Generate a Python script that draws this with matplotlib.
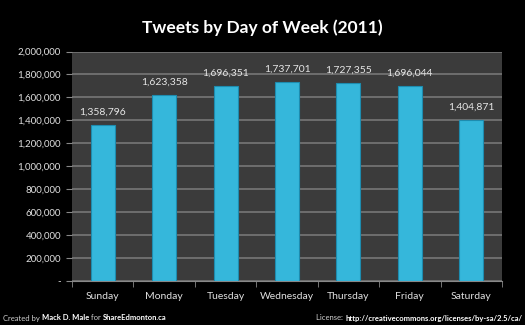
import matplotlib
matplotlib.use('Agg')
from matplotlib import pyplot as plt
from matplotlib.ticker import FuncFormatter, FixedLocator
import numpy as np

days = ['Sunday', 'Monday', 'Tuesday', 'Wednesday', 'Thursday', 'Friday', 'Saturday']
tweets = [1358796, 1623358, 1696351, 1737701, 1727355, 1696044, 1404871]
yticks = list(range(0, 2000001, 200000))

plt.rcParams['font.family'] = ['Lato', 'DejaVu Sans']

fig = plt.figure(figsize=(5.25, 3.25), dpi=100, facecolor='black')
ax = fig.add_axes([72/525, 1 - 281/325, 430/525, 229.5/325])
ax.set_facecolor('#3b3b3b')

x = np.arange(len(days))
ax.bar(x, tweets, width=0.39, color='#35b7db', edgecolor='#1d8caf', linewidth=0.8, zorder=3)

for xi, v in zip(x, tweets):
    ax.annotate(f'{v:,}', (xi, v), xytext=(0, 6), textcoords='offset points',
                ha='center', va='bottom', color='#e6e6e6', fontsize=7.5)

ax.set_xlim(-0.5, len(days) - 0.5)
ax.set_ylim(0, 2000000)
ax.set_yticks(yticks)
ax.yaxis.set_major_formatter(FuncFormatter(lambda v, p: '-' if v == 0 else f'{int(v):,}'))
ax.grid(axis='y', color='#777777', linewidth=1.2, zorder=0)

ax.set_xticks(x)
ax.set_xticklabels(days)
ax.xaxis.set_minor_locator(FixedLocator(np.arange(-0.5, len(days), 1)))
ax.tick_params(axis='x', which='major', length=0, pad=8, colors='#e0e0e0', labelsize=7.5)
ax.tick_params(axis='x', which='minor', length=4, color='#888888', direction='out')
ax.tick_params(axis='y', length=4, color='#888888', colors='#e0e0e0', labelsize=7, pad=4)

for s in ['top', 'right', 'left']:
    ax.spines[s].set_visible(False)
ax.spines['bottom'].set_color('#888888')

fig.text(0.5, 1 - 28/325, 'Tweets by Day of Week (2011)', ha='center', va='center',
         color='white', fontsize=12.5, fontweight='bold')

# footer with mixed weights, placed piece by piece
fy = 1 - 318/325
t1 = fig.text(3/525, fy, 'Created by ', ha='left', va='center', color='#d0d0d0', fontsize=5.5)
fig.canvas.draw()
r = fig.canvas.get_renderer()

def put(prev, s, bold):
    bb = prev.get_window_extent(r)
    return fig.text(bb.x1 / fig.bbox.width, fy, s, ha='left', va='center',
                    color='white' if bold else '#d0d0d0', fontsize=5.5,
                    fontweight='bold' if bold else 'normal')

t2 = put(t1, 'Mack D. Male', True)
t3 = put(t2, ' for ', False)
t4 = put(t3, 'ShareEdmonton.ca', True)

lic = fig.text(522/525, fy, 'http://creativecommons.org/licenses/by-sa/2.5/ca/',
               ha='right', va='center', color='white', fontsize=5.5, fontweight='bold')
fig.canvas.draw()
bb = lic.get_window_extent(r)
fig.text(bb.x0 / fig.bbox.width, fy, 'License: ', ha='right', va='center',
         color='#d0d0d0', fontsize=5.5)

fig.savefig('out.png', dpi=100, facecolor='black')
